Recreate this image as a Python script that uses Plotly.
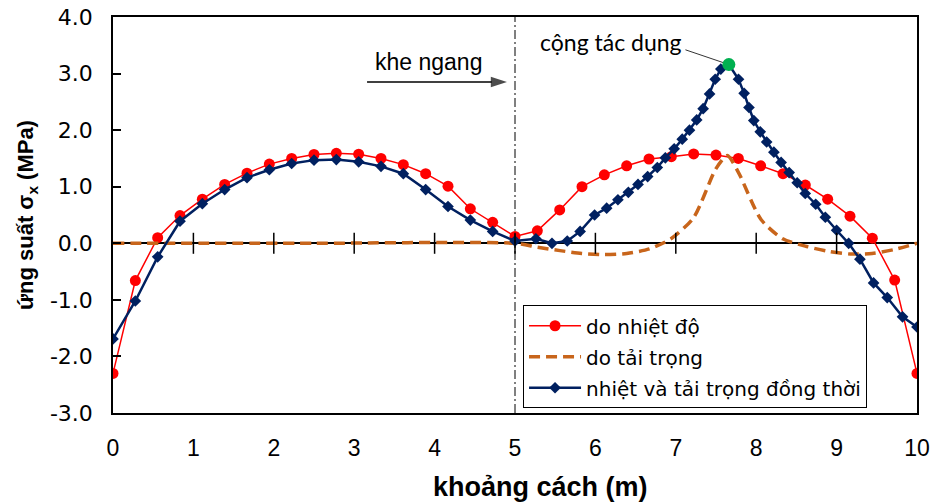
import plotly.graph_objects as go

# Stress sigma_x along the slab (m) for three load cases
x_grid = [i * 10 / 36 for i in range(37)]

# thermal only (same 36-interval grid)
thermal_y = [-2.30, -0.66, 0.10, 0.49, 0.78, 1.04, 1.24, 1.40, 1.50, 1.57,
             1.59, 1.575, 1.50, 1.39, 1.23, 1.01, 0.61, 0.37, 0.12,
             0.22, 0.59, 1.00, 1.21, 1.37, 1.49, 1.53, 1.58, 1.56, 1.50,
             1.37, 1.23, 1.03, 0.78, 0.48, 0.09, -0.65, -2.30]

# traffic load only
load_x = [0.0, 2.5, 5.0, 5.28, 5.56, 5.83, 6.11, 6.39, 6.67, 6.94, 7.22, 7.5,
          7.64, 7.78, 8.06, 8.33, 8.61, 8.89, 9.17, 9.44, 9.72, 10.0]
load_y = [0.0, 0.0, 0.0, -0.07, -0.13, -0.18, -0.20, -0.18, -0.10, 0.08, 0.45,
          1.32, 1.55, 1.25, 0.42, 0.08, -0.05, -0.14, -0.19, -0.18, -0.11, 0.0]

# combined thermal + load
comb_x = [i * 5 / 18 for i in range(19)] + [
    5.26, 5.46, 5.65, 5.81, 5.99, 6.14, 6.28, 6.41, 6.53, 6.65, 6.77, 6.87,
    6.98, 7.08, 7.17, 7.26, 7.34, 7.42, 7.49, 7.56, 7.66, 7.78, 7.85, 7.91,
    7.97, 8.05, 8.13, 8.22, 8.31, 8.41, 8.51, 8.61, 8.74, 8.86, 9.0, 9.15,
    9.29, 9.46, 9.63, 9.82, 10.0]
comb_y = [-1.69, -1.02, -0.24, 0.39, 0.70, 0.95, 1.16, 1.30, 1.41, 1.47,
          1.48, 1.44, 1.36, 1.23, 0.95, 0.65, 0.41, 0.21, 0.04,
          0.08, 0.0, 0.04, 0.21, 0.50, 0.62, 0.77, 0.90, 1.04, 1.18, 1.34, 1.51,
          1.67, 1.84, 2.00, 2.18, 2.38, 2.64, 2.90, 3.08, 3.16, 2.90, 2.65, 2.40,
          2.17, 1.97, 1.79, 1.61, 1.43, 1.25, 1.07, 0.88, 0.69, 0.46, 0.23, 0.0,
          -0.28, -0.70, -0.96, -1.30, -1.48]

# combined-effect maximum
peak_x = [7.66]
peak_y = [3.16]

tick_x = [1, 2, 3, 4, 5, 6, 7, 8, 9]
tick_y = [0] * len(tick_x)

y_vals = [-3, -2, -1, 0, 1, 2, 3, 4]
y_text = ["-3.0", "-2.0", "-1.0", "0.0", "1.0", "2.0", "3.0", "4.0"]

fig = go.Figure()

fig.add_trace(go.Scatter(
    x=x_grid, y=thermal_y, mode="lines+markers", name="do nhiệt độ",
    legendgroup="a",
    line=dict(color="#FF0000", width=1.5),
    marker=dict(symbol="circle", size=11, color="#FF0000")))

fig.add_trace(go.Scatter(
    x=load_x, y=load_y, mode="lines", name="do tải trọng",
    legendgroup="b",
    line=dict(color="#C8651B", width=3.5, dash="11px,6px", shape="spline", smoothing=0.7)))

fig.add_trace(go.Scatter(
    x=comb_x, y=comb_y, mode="lines+markers", name="nhiệt và tải trọng đồng thời",
    legendgroup="c",
    line=dict(color="#002060", width=2.5),
    marker=dict(symbol="diamond", size=9, color="#002060")))

# leader line from the label to the maximum
fig.add_trace(go.Scatter(
    x=[7.12, peak_x[0]], y=[3.42, peak_y[0]], mode="lines", showlegend=False,
    hoverinfo="skip", line=dict(color="black", width=0.8)))

fig.add_trace(go.Scatter(
    x=peak_x, y=peak_y, mode="markers", showlegend=False, hoverinfo="skip",
    marker=dict(symbol="circle", size=13, color="#00B050")))

# cross tick marks on the zero axis
fig.add_trace(go.Scatter(
    x=tick_x, y=tick_y, mode="markers", showlegend=False, hoverinfo="skip",
    marker=dict(symbol="line-ns", size=15, line=dict(color="black", width=1.5))))

# arrow pointing at the joint
fig.add_trace(go.Scatter(
    x=[3.16, 4.90], y=[2.85, 2.85], mode="lines+markers", showlegend=False,
    hoverinfo="skip", line=dict(color="black", width=1.5),
    marker=dict(symbol=["circle", "arrow"], size=[0, 17], angleref="previous",
                color="black", line=dict(width=0))))

# transverse joint line
fig.add_shape(type="line", xref="x", yref="paper", x0=5, x1=5, y0=0, y1=1,
              line=dict(color="black", width=1, dash="9px,3px,2px,3px"))

fig.add_annotation(x=3.93, y=3.2, xref="x", yref="y", text="khe ngang",
                   showarrow=False, font=dict(family="Liberation Sans, Arial", size=23, color="black"))

fig.add_annotation(x=7.10, y=3.56, xref="x", yref="y", text="cộng tác dụng",
                   xanchor="right", showarrow=False,
                   font=dict(family="Lato, Open Sans", size=23, color="black"))

# horizontal axis title
fig.add_annotation(x=0.532, y=-0.187, xref="paper", yref="paper",
                   text="<b>khoảng cách (m)</b>", showarrow=False,
                   xanchor="center", yanchor="middle",
                   font=dict(family="Liberation Sans", size=27, color="black"))

fig.update_layout(
    width=934, height=503,
    margin=dict(l=113, r=17, t=17, b=90, autoexpand=False),
    plot_bgcolor="white", paper_bgcolor="white",
    font=dict(family="Liberation Sans, Arial", color="black"),
    showlegend=True,
    legend=dict(x=0.510, y=0.012, xanchor="left", yanchor="bottom",
                bgcolor="white", bordercolor="black", borderwidth=1,
                font=dict(size=20, family="DejaVu Sans"),
                itemwidth=52, tracegroupgap=2),
)

fig.update_xaxes(
    range=[0, 10], dtick=1, tick0=0, showgrid=False, zeroline=False,
    showline=True, linecolor="black", linewidth=1.5, mirror=True,
    ticks="", ticklabelstandoff=14, automargin=False,
    tickfont=dict(family="Liberation Sans", size=23))

fig.update_yaxes(
    range=[-3, 4], tickvals=y_vals, ticktext=y_text, showgrid=False,
    zeroline=True, zerolinecolor="black", zerolinewidth=1.5,
    showline=True, linecolor="black", linewidth=1.5, mirror=True,
    ticks="inside", ticklen=8, tickwidth=1.5, tickcolor="black",
    ticklabelstandoff=14, automargin=False,
    tickfont=dict(family="DejaVu Sans", size=22),
    title=dict(text="<b>ứng suất σ<sub>x</sub> (MPa)</b>", standoff=10,
               font=dict(family="Liberation Sans, Arial", size=22)))

fig.write_html("out.html")
